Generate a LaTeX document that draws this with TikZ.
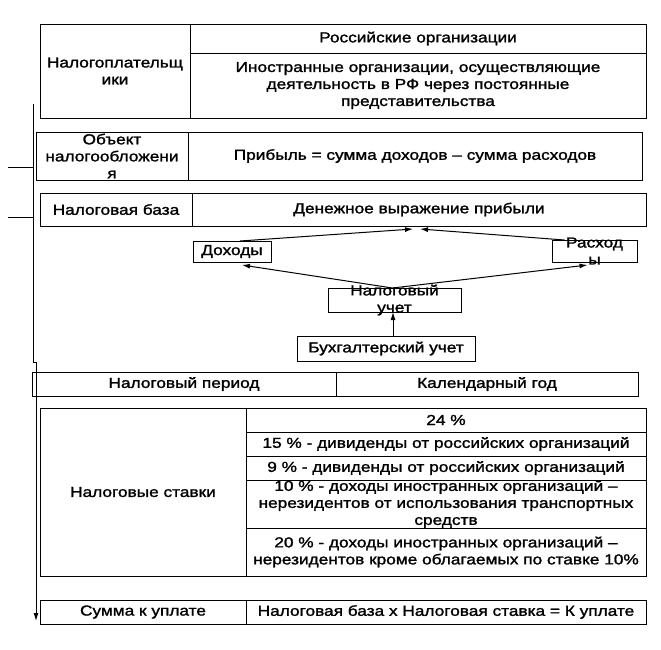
\documentclass[tikz,border=0pt]{standalone}
\usepackage{fontspec}
\setmainfont{Liberation Sans}
\newfontfamily\tfont[FakeStretch=1.19, FakeBold=1.5, Ligatures=TeX]{Liberation Sans}
\usetikzlibrary{arrows.meta}
\tikzset{
  cellbox/.style={draw, line width=1pt, anchor=north west, inner sep=0pt, outer sep=0pt},
  txt/.style={align=center, inner sep=0pt, font=\tfont\fontsize{14.5pt}{17pt}\selectfont},
  arr/.style={line width=1pt, -{Latex[length=8pt,width=5pt]}},
  plain/.style={line width=1pt}
}
% \mycell{name}{x1}{y1}{w}{h}{text}
\newcommand{\mycell}[6]{%
  \node[cellbox, minimum width=#4pt, minimum height=#5pt] (#1) at (#2,#3) {};
  \node[txt] (#1t) at (#1.center) {#6};
}
\begin{document}
\begin{tikzpicture}[x=1pt,y=-1pt]
\useasboundingbox[fill=white] (0,0) rectangle (661,649);

% Налогоплательщики
\mycell{np}{40}{24}{150}{94}{Налогоплательщ\\ики}
\mycell{ro}{190}{24}{456}{29}{Российские организации}
\mycell{io}{190}{53}{456}{65}{Иностранные организации, осуществляющие\\деятельность в РФ через постоянные\\представительства}

% Объект налогообложения
\mycell{ob}{36}{132}{152}{48}{Объект\\налогообложени\\я}
\mycell{pr}{188}{132}{454}{48}{Прибыль = сумма доходов – сумма расходов}

% Налоговая база
\mycell{nb}{40}{193}{152}{33}{Налоговая база}
\mycell{dv}{192}{193}{454}{33}{Денежное выражение прибыли}

% Доходы / Расходы / учет
\mycell{doh}{193}{241}{78}{21}{Доходы}
\mycell{ras}{552}{240}{85}{22}{Расход\\ы}
\mycell{nu}{328}{288}{133}{24}{Налоговый\\учет}
\mycell{bu}{297}{336}{178}{25}{Бухгалтерский учет}

% Налоговый период
\mycell{npr}{32}{372}{304}{24}{Налоговый период}
\mycell{kg}{336}{372}{302}{24}{Календарный год}

% Налоговые ставки
\mycell{ns}{40}{408}{206}{168}{Налоговые ставки}
\mycell{r24}{246}{408}{400}{24}{24 \%}
\mycell{r15}{246}{432}{400}{24}{15 \% - дивиденды от российских организаций}
\mycell{r9}{246}{456}{400}{24}{9 \% - дивиденды от российских организаций}
\mycell{r10}{246}{480}{400}{48}{10 \% - доходы иностранных организаций –\\нерезидентов от использования транспортных\\средств}
\mycell{r20}{246}{528}{400}{48}{20 \% - доходы иностранных организаций –\\нерезидентов кроме облагаемых по ставке 10\%}

% Сумма к уплате
\mycell{sk}{40}{600}{206}{24}{Сумма к уплате}
\mycell{fo}{246}{600}{400}{24}{Налоговая база х Налоговая ставка = К уплате}

% arrows in the middle
\coordinate (t1) at (413,229);
\coordinate (t2) at (420,229);
\draw[arr] ([xshift=8pt]doh.north) -- (t1);
\draw[arr] ([xshift=-30pt]ras.north) -- (t2);
\draw[arr] ([xshift=-2pt]nu.north) -- ([shift={(10,3)}]doh.south);
\draw[arr] ([xshift=-2pt]nu.north) -- ([shift={(-7,3)}]ras.south);
\draw[arr] ([xshift=7pt]bu.north) -- ([xshift=7pt]bu.north |- nu.south);

% left vertical connector
\coordinate (v0) at (33,104);
\coordinate (v1) at (33,362);
\coordinate (v2) at (36,362);
\coordinate (v3) at (36,621);
\coordinate (h1) at (8,167);
\coordinate (h1e) at (33,167);
\coordinate (h2) at (8,217);
\coordinate (h2e) at (33,217);
\draw[plain] (v0) -- (v1) -- (v2);
\draw[arr] (v2) -- (v3);
\draw[plain] (h1) -- (h1e);
\draw[plain] (h2) -- (h2e);
\end{tikzpicture}
\end{document}
